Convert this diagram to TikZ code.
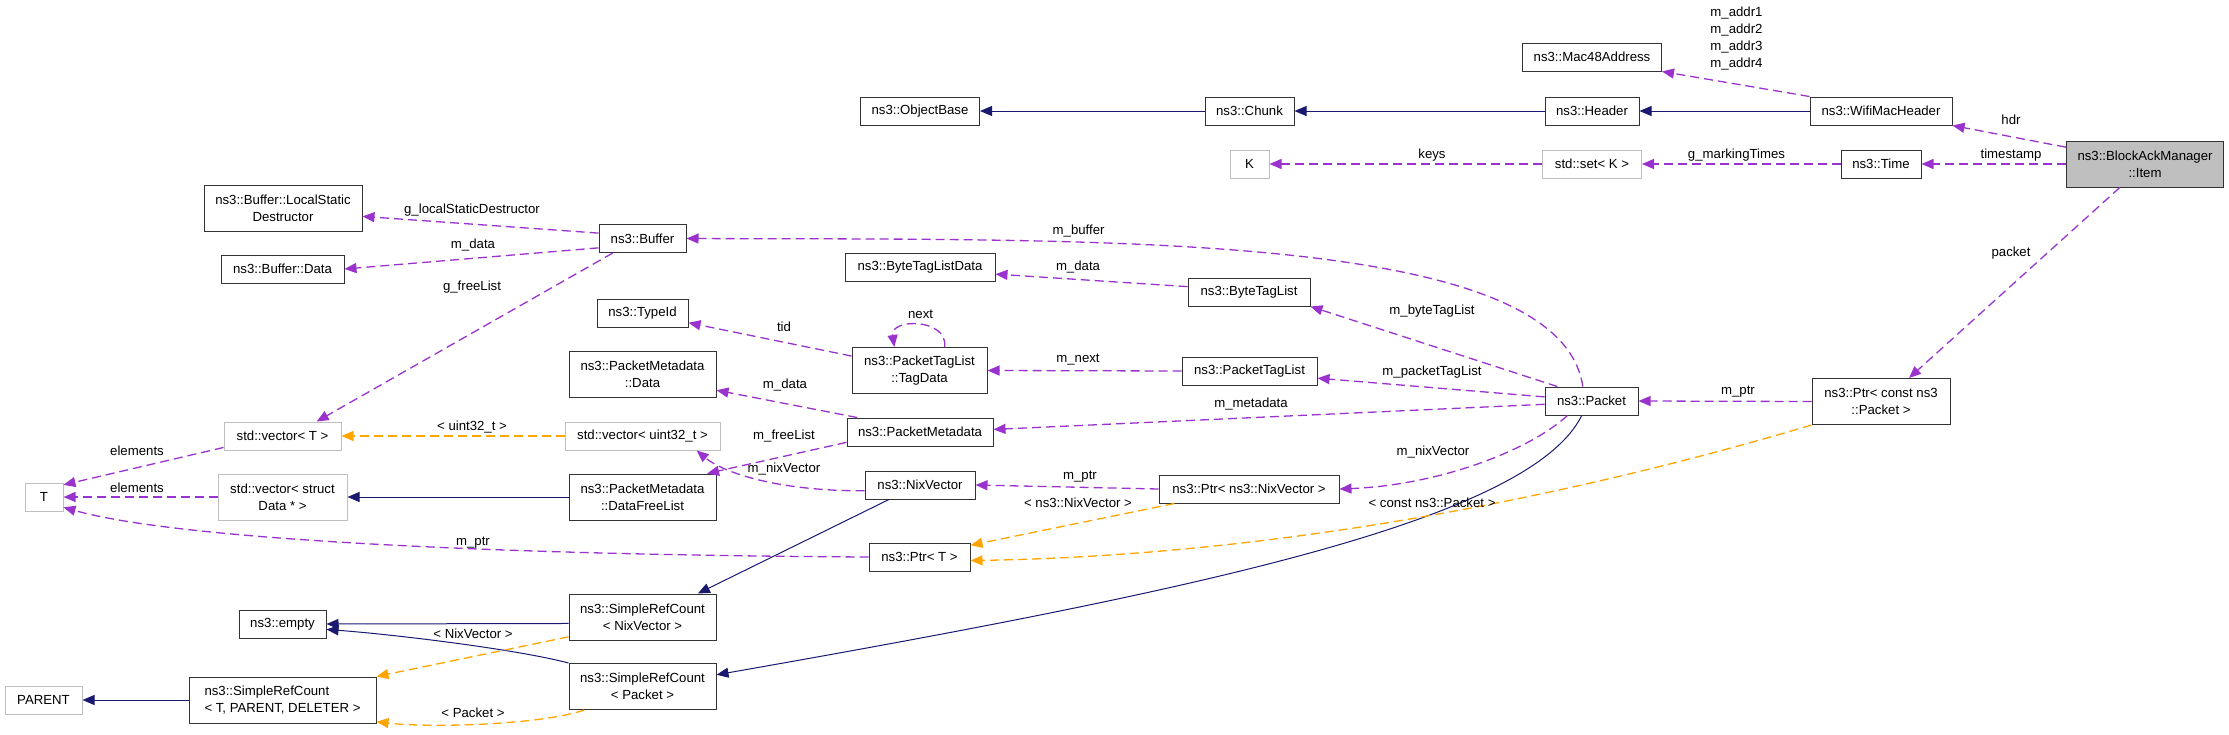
\documentclass[tikz,border=0pt]{standalone}
\usepackage{fontspec}
\setmainfont{Liberation Sans}
\usetikzlibrary{arrows.meta}
\definecolor{memcol}{HTML}{9A32CD}
\definecolor{inhcol}{HTML}{191970}
\definecolor{tplcol}{HTML}{FFA500}
\definecolor{boxgray}{HTML}{BFBFBF}

\begin{document}
\begin{tikzpicture}[x=1pt, y=-1pt,
  font=\fontsize{13.2}{17}\selectfont,
  >={Triangle[length=12pt, width=10pt]},
  cls/.style={draw=black!80, line width=1pt, minimum height=28pt, inner xsep=2pt, inner ysep=2pt, align=center},
  ext/.style={cls, draw=boxgray},
  two/.style={minimum height=46pt},
  lbl/.style={inner sep=0pt, align=center},
  member/.style={draw=memcol, line width=1.3pt, dash pattern=on 9pt off 5pt, ->},
  inherit/.style={draw=inhcol, line width=1pt, ->},
  tmpl/.style={draw=tplcol, line width=1.3pt, dash pattern=on 9pt off 5pt, ->}]
    \useasboundingbox (0,0) rectangle (2229,734);

    % Documented class
    \node[cls, two, fill=boxgray, minimum width=157] (item) at (2145,164) {ns3::BlockAckManager\\::Item};

    % Column next to it
    \node[cls, minimum width=142] (wifi) at (1881,111) {ns3::WifiMacHeader};
    \node[cls, minimum width=80] (time) at (1881,164) {ns3::Time};
    \node[cls, two, minimum width=138] (ptrpkt) at (1881,401.5) {ns3::Ptr< const ns3\\::Packet >};

    \node[cls, minimum width=139] (mac) at (1592,57) {ns3::Mac48Address};
    \node[cls, minimum width=94] (header) at (1592,111) {ns3::Header};
    \node[ext, minimum width=99] (setk) at (1592,164) {std::set< K >};
    \node[cls, minimum width=93] (packet) at (1591.5,401) {ns3::Packet};

    \node[cls, minimum width=89] (chunk) at (1249.5,111) {ns3::Chunk};
    \node[ext, minimum width=39] (k) at (1249.5,164) {K};
    \node[cls, minimum width=122] (btl) at (1249,292) {ns3::ByteTagList};
    \node[cls, minimum width=135] (ptl) at (1249.5,371) {ns3::PacketTagList};
    \node[cls, minimum width=180] (ptrnix) at (1249,489) {ns3::Ptr< ns3::NixVector >};

    \node[cls, minimum width=119] (objbase) at (920,111) {ns3::ObjectBase};
    \node[cls, minimum width=150] (btld) at (920,267.5) {ns3::ByteTagListData};
    \node[cls, two, minimum width=135] (tagdata) at (919.5,370.5) {ns3::PacketTagList\\::TagData};
    \node[cls, minimum width=146] (pmeta) at (920,432) {ns3::PacketMetadata};
    \node[cls, minimum width=110] (nixvec) at (920,485) {ns3::NixVector};
    \node[cls, minimum width=101] (ptrt) at (919.5,557) {ns3::Ptr< T >};

    \node[cls, minimum width=87] (buffer) at (642.5,238.5) {ns3::Buffer};
    \node[cls, minimum width=91] (typeid) at (642.5,313) {ns3::TypeId};
    \node[cls, two, minimum width=147] (pmdata) at (642.5,374.5) {ns3::PacketMetadata\\::Data};
    \node[ext, minimum width=155] (vecu32) at (642.5,436) {std::vector< uint32\_t >};
    \node[cls, two, minimum width=147] (freelist) at (642.5,497) {ns3::PacketMetadata\\::DataFreeList};
    \node[cls, two, minimum width=147] (srcnix) at (642.5,617) {ns3::SimpleRefCount\\< NixVector >};
    \node[cls, two, minimum width=147] (srcpkt) at (642.5,686.5) {ns3::SimpleRefCount\\< Packet >};

    \node[cls, two, minimum width=158] (lsd) at (283,208) {ns3::Buffer::LocalStatic\\Destructor};
    \node[cls, minimum width=123] (bufdata) at (282.5,269) {ns3::Buffer::Data};
    \node[ext, minimum width=117] (vect) at (282.5,436) {std::vector< T >};
    \node[ext, two, minimum width=129] (vecdata) at (282.5,497) {std::vector< struct\\Data * >};
    \node[cls, minimum width=87] (empty) at (282.5,624) {ns3::empty};
    \node[cls, two, minimum width=187, align=left] (srctpd) at (282.5,700) {ns3::SimpleRefCount\\< T, PARENT, DELETER >};

    \node[ext, minimum width=38] (t) at (44,497) {T};
    \node[ext, minimum width=77] (parent) at (43.5,700) {PARENT};

    % Inheritance
    \foreach \s/\d in {wifi/header, header/chunk, chunk/objbase, freelist/vecdata, srctpd/parent} {
      \draw[inherit] (\s.west) -- (\d.east);
    }
    \draw[inherit] (srcnix.185) -- (empty.east);
    \draw[inherit] (nixvec.205) -- (srcnix.23);
    \draw[inherit] (srcpkt.north west) .. controls (520,650) and (400,635) .. (empty.-7);
    \draw[inherit] (packet.236) .. controls (1530,520) and (1200,590) .. (srcpkt.9);

    % Template instances
    \draw[tmpl] (vecu32.west) -- (vect.east);
    \draw[tmpl] (srcnix.195) -- (srctpd.north east);
    \draw[tmpl] (srcpkt.202) .. controls (540,725) and (430,728) .. (srctpd.-13);
    \draw[tmpl] (ptrnix.191) -- (ptrt.13);
    \draw[tmpl] (ptrpkt.south west) .. controls (1600,488) and (1300,555) .. (ptrt.-4);

    % Members
    \foreach \s/\d in {item/time, time/setk, setk/k, ptrpkt/packet, ptl/tagdata, ptrnix/nixvec, vecdata/t} {
      \draw[member] (\s.west) -- (\d.east);
    }
    \draw[member] (item.168) -- (wifi.south east);
    \draw[member] (item.223) -- (ptrpkt.40);
    \draw[member] (wifi.north west) -- (mac.south east);
    \draw[member] (packet.121) .. controls (1560,230) and (1100,240) .. (buffer.east);
    \draw[member] (packet.157) -- (btl.south east);
    \draw[member] (packet.175) -- (ptl.-6);
    \draw[member] (packet.184) -- (pmeta.2);
    \draw[member] (packet.211) .. controls (1530,450) and (1440,485) .. (ptrnix.east);
    \draw[member] (btl.175) -- (btld.-5);
    \draw[member] (tagdata.168) -- (typeid.-12);
    \draw[member] (tagdata.43) .. controls (948,318) and (890,318) .. (tagdata.137);
    \draw[member] (pmeta.167) -- (pmdata.-12);
    \draw[member] (pmeta.188) -- (freelist.20);
    \draw[member] (nixvec.186) .. controls (770,491) and (720,470) .. (vecu32.-15);
    \draw[member] (ptrt.west) .. controls (500,555) and (180,540) .. (t.-28);
    \draw[member] (buffer.173) -- (lsd.-6);
    \draw[member] (buffer.192) -- (bufdata.east);
    \draw[member] (buffer.206) -- (vect.23);
    \draw[member] (vect.191) -- (t.32);

    % Edge labels
    \node[lbl] (l-hdr) at (2011,120) {hdr};
    \node[lbl] (l-stamp) at (2011,155) {timestamp};
    \node[lbl] (l-packet) at (2011,253) {packet};
    \node[lbl] (l-addr) at (1736.5,39) {m\_addr1\\m\_addr2\\m\_addr3\\m\_addr4};
    \node[lbl] (l-marking) at (1736.5,155) {g\_markingTimes};
    \node[lbl] (l-ptrpkt) at (1738,392) {m\_ptr};
    \node[lbl] (l-keys) at (1432,155) {keys};
    \node[lbl] (l-btl) at (1432,311) {m\_byteTagList};
    \node[lbl] (l-ptl) at (1432,372) {m\_packetTagList};
    \node[lbl] (l-nix) at (1433,452) {m\_nixVector};
    \node[lbl] (l-constpkt) at (1432,503) {< const ns3::Packet >};
    \node[lbl] (l-buffer) at (1078.6,231) {m\_buffer};
    \node[lbl] (l-btld) at (1078,267) {m\_data};
    \node[lbl] (l-next) at (1078,360) {m\_next};
    \node[lbl] (l-meta) at (1251,404) {m\_metadata};
    \node[lbl] (l-ptrnix) at (1080,477) {m\_ptr};
    \node[lbl] (l-nixtmpl) at (1078,503) {< ns3::NixVector >};
    \node[lbl] (l-loop) at (920.6,314) {next};
    \node[lbl] (l-tid) at (784,327) {tid};
    \node[lbl] (l-pmdata) at (785,385) {m\_data};
    \node[lbl] (l-freelist) at (784,436) {m\_freeList};
    \node[lbl] (l-nixvec) at (784,469) {m\_nixVector};
    \node[lbl] (l-lsd) at (472,210) {g\_localStaticDestructor};
    \node[lbl] (l-bufdata) at (473,245) {m\_data};
    \node[lbl] (l-gfree) at (472,287) {g\_freeList};
    \node[lbl] (l-u32) at (472,427) {< uint32\_t >};
    \node[lbl] (l-ptrt) at (473,543) {m\_ptr};
    \node[lbl] (l-nixref) at (473,634) {< NixVector >};
    \node[lbl] (l-pktref) at (473,713) {< Packet >};
    \node[lbl] (l-elem1) at (137,451) {elements};
    \node[lbl] (l-elem2) at (137,488) {elements};
\end{tikzpicture}
\end{document}
